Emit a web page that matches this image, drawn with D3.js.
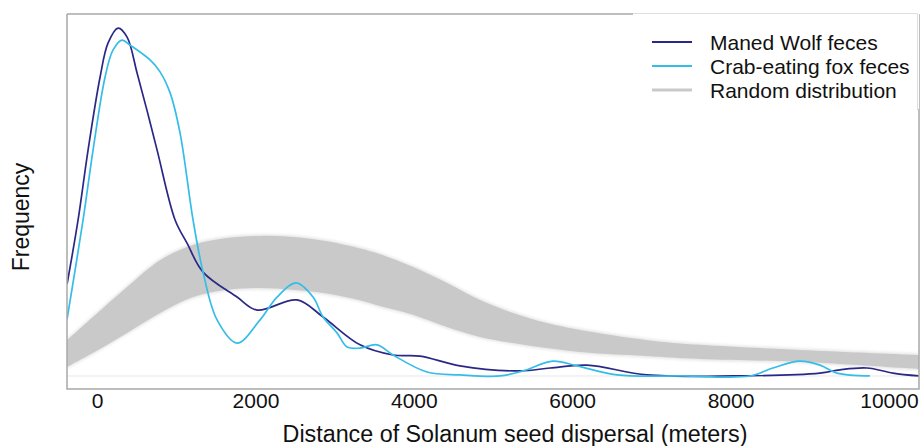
<!DOCTYPE html>
<html>
<head>
<meta charset="utf-8">
<script src="https://cdn.jsdelivr.net/npm/d3@7"></script>
<style>
  html, body { margin: 0; padding: 0; background: #fff; }
  svg { display: block; font-family: "Liberation Sans", Arial, sans-serif; }
</style>
</head>
<body>
<svg id="chart" width="922" height="446"></svg>
<script>
// Seed dispersal distance (m) and smoothed frequency (relative units)
const manedWolf = [
  [-379, 25.4], [-240, 43.1], [-114, 62.4], [38, 82.6], [139, 92.0], [265, 96.1],
  [379, 93.6], [505, 83.7], [631, 73.3], [758, 62.4], [985, 43.1], [1136, 36.7],
  [1338, 28.7], [1768, 21.8], [2020, 18.2], [2525, 21.0], [2854, 16.3], [3321, 8.6],
  [3737, 5.8], [4078, 5.5], [4583, 2.8], [5341, 1.4], [5720, 2.2], [6187, 3.0],
  [6944, 0.3], [8030, 0.0], [9129, 0.8], [9381, 1.7], [9722, 2.2], [10051, 0.8],
  [10379, 0.0]
];

const crabFox = [
  [-379, 15.7], [-177, 43.1], [-51, 62.4], [101, 82.6], [202, 90.1], [316, 92.8],
  [417, 91.4], [669, 87.3], [795, 84.0], [922, 78.2], [1048, 67.1], [1212, 43.1],
  [1338, 28.7], [1515, 15.5], [1768, 9.1], [2058, 15.5], [2273, 21.8], [2513, 25.7],
  [2727, 21.8], [2854, 16.3], [3030, 11.9], [3157, 8.0], [3321, 7.7], [3535, 8.6],
  [3737, 5.8], [4167, 1.1], [4583, 0.3], [5088, 0.0], [5379, 1.4], [5758, 4.1],
  [6061, 2.8], [6566, 0.3], [7400, 0.0], [8245, 0.0], [8535, 2.2], [8876, 4.1],
  [9129, 3.0], [9343, 0.8], [9760, 0.0]
];

// Envelope of the simulated random dispersal curves
const randomUpper = [
  [-379, 9.9], [-51, 16.3], [379, 24.6], [795, 32.0], [1212, 36.2], [1641, 38.1],
  [2058, 38.7], [2475, 38.4], [2904, 37.2], [3321, 35.2], [3573, 33.6], [3990, 30.1],
  [4419, 25.7], [4836, 21.0], [5253, 17.4], [5682, 14.6], [6098, 12.7], [6944, 9.9],
  [7614, 8.6], [8876, 7.2], [10379, 5.8]
];
const randomLower = [
  [-379, 2.5], [-51, 6.4], [379, 11.9], [795, 17.4], [1212, 21.8], [1641, 23.8],
  [2058, 24.3], [2475, 23.8], [2904, 22.8], [3321, 20.9], [3573, 19.3], [3990, 16.9],
  [4419, 13.5], [4836, 10.8], [5253, 9.1], [5682, 7.7], [6098, 6.6], [6944, 5.5],
  [7614, 4.7], [8876, 3.9], [10379, 1.9]
];

const xTicks = [0, 2000, 4000, 6000, 8000, 10000];
const legendItems = ["Maned Wolf feces", "Crab-eating fox feces", "Random distribution"];
const legendColors = ["#2a2887", "#35bde8", "#c9c9c9"];

const svg = d3.select("#chart");
const plot = { left: 67, right: 919, top: 14, bottom: 389 };

const x = d3.scaleLinear().domain([-380, 10380]).range([plot.left, plot.right]);
const y = d3.scaleLinear().domain([-3.6, 100]).range([plot.bottom, plot.top]);

const defs = svg.append("defs");
defs.append("clipPath").attr("id", "plotClip")
  .append("rect")
  .attr("x", plot.left).attr("y", plot.top)
  .attr("width", plot.right - plot.left).attr("height", plot.bottom - plot.top);
defs.append("filter").attr("id", "soft")
  .attr("x", "-5%").attr("y", "-20%").attr("width", "110%").attr("height", "140%")
  .append("feGaussianBlur").attr("stdDeviation", 1.5);

const g = svg.append("g").attr("clip-path", "url(#plotClip)");

// faint zero baseline
g.append("line")
  .attr("x1", plot.left).attr("x2", plot.right)
  .attr("y1", y(0)).attr("y2", y(0))
  .attr("stroke", "#efefef").attr("stroke-width", 1.5);

const line = d3.line()
  .x(d => x(d[0]))
  .y(d => y(d[1]))
  .curve(d3.curveCatmullRom.alpha(0.5));

// random distribution band: upper envelope out, lower envelope back
function bandPath(upper, lower, pad) {
  const up = line(upper.map(d => [d[0], d[1] + pad]));
  const low = line(lower.slice().reverse().map(d => [d[0], d[1] - pad]));
  return up + "L" + low.slice(1) + "Z";
}
g.append("path")
  .attr("d", bandPath(randomUpper, randomLower, 0.4))
  .attr("fill", "#e4e4e4")
  .attr("filter", "url(#soft)");
g.append("path")
  .attr("d", bandPath(randomUpper, randomLower, 0))
  .attr("fill", "#c9c9c9");

g.append("path").datum(manedWolf)
  .attr("d", line).attr("fill", "none")
  .attr("stroke", legendColors[0]).attr("stroke-width", 1.7);
g.append("path").datum(crabFox)
  .attr("d", line).attr("fill", "none")
  .attr("stroke", legendColors[1]).attr("stroke-width", 1.7);

// frame
const frame = svg.append("g").attr("stroke", "#a8a8a8").attr("stroke-width", 1.5).attr("fill", "none");
frame.append("path")
  .attr("d", `M${plot.left},${plot.top}V${plot.bottom}H${plot.right}V${plot.top}`);
frame.append("line")
  .attr("x1", plot.left).attr("x2", 633).attr("y1", plot.top).attr("y2", plot.top);

// legend
const legend = svg.append("g");
legend.append("rect")
  .attr("x", 633).attr("y", 13).attr("width", 286).attr("height", 96)
  .attr("fill", "#fff");
legend.append("path")
  .attr("d", "M633,13.5H917.5V110")
  .attr("fill", "none").attr("stroke", "#dedede").attr("stroke-width", 1);
legendItems.forEach((name, i) => {
  const ly = 42 + i * 24;
  legend.append("line")
    .attr("x1", 652).attr("x2", 692).attr("y1", ly).attr("y2", ly)
    .attr("stroke", legendColors[i]).attr("stroke-width", i === 2 ? 3 : 1.8);
  legend.append("text")
    .attr("x", 710).attr("y", ly + 7.5)
    .attr("font-size", 21).attr("fill", "#111")
    .text(name);
});

// x axis tick labels
const xAxis = d3.axisBottom(x).tickValues(xTicks).tickSize(0).tickPadding(0).tickFormat(d3.format("d"));
const axisG = svg.append("g").attr("transform", `translate(0,${plot.bottom + 1})`).call(xAxis);
axisG.select(".domain").remove();
axisG.selectAll("text")
  .attr("font-size", 21).attr("fill", "#111")
  .attr("font-family", "'Liberation Sans', Arial, sans-serif")
  .attr("dy", null).attr("y", 17.5);

// axis titles
svg.append("text")
  .attr("x", 515).attr("y", 442)
  .attr("text-anchor", "middle").attr("font-size", 23.3).attr("fill", "#111")
  .text("Distance of Solanum seed dispersal (meters)");
svg.append("text")
  .attr("transform", "translate(29,217) rotate(-90)")
  .attr("text-anchor", "middle").attr("font-size", 23).attr("fill", "#111")
  .text("Frequency");
</script>
</body>
</html>
